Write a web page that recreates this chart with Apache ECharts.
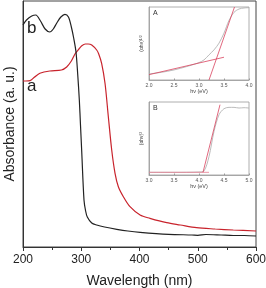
<!DOCTYPE html>
<html><head><meta charset="utf-8">
<script src="https://cdn.jsdelivr.net/npm/echarts@6/dist/echarts.min.js"></script>
<style>html,body{margin:0;padding:0;background:#fff}#c{width:266px;height:288px}</style>
</head><body><div id="c"></div>
<script>
// Main spectra: wavelength (nm) -> absorbance (a.u., arbitrary scale)
const curveA = [[200,166],[205,166],[212,166.3],[220,170],[229,173.7],[246,176],[266,177],[275,180],[283,186],[290,193.7],[296,198],[301,201.3],[307,203],[312,203],[318,202],[326.5,197],[330,193],[335,183.7],[340.8,163.7],[346.5,130.3],[352.3,97],[358,73.7],[363.7,60.3],[372.3,50.3],[383.7,40.3],[401,32],[418,28.7],[446.7,24.3],[470,22],[498,19.3],[530,18],[561,17],[600,16]];
const curveB = [[200,222],[206,227],[215,231],[222,232],[230,226],[238,218],[246,215],[252,218],[258,224],[265,230],[272,232.7],[278,230],[283,220],[287,209],[291,195],[294,172],[296.7,147],[298.7,122],[300.7,97],[304.7,47],[307.5,36],[310.4,30],[318,24],[326.5,22],[340,20],[361,17.7],[380,16],[401,14.7],[450,12.7],[490,12],[500,11.7],[514,12.5],[540,12],[561,11.5],[580,11.5],[600,11]];
// Inset A: (ahv)^1/2 vs hv (eV)
const insetAData = [[2.0,18],[2.25,23],[2.5,30],[2.75,40],[3.0,52],[3.1,60],[3.2,75],[3.3,90],[3.4,110],[3.5,140],[3.6,178],[3.7,202],[3.8,212],[3.9,215],[4.0,216]];
const insetAFit1 = [[2.0,16],[3.5,68]];
const insetAFit2 = [[3.2,0],[3.71,218]];
// Inset B: (ahv)^2 vs hv (eV)
const insetBData = [[3.0,8],[3.5,8],[4.0,9],[4.1,12],[4.2,55],[4.3,130],[4.4,180],[4.5,198],[4.6,202],[4.7,202],[4.8,200],[4.9,201],[5.0,200]];
const insetBFit1 = [[3.0,8],[4.2,8]];
const insetBFit2 = [[4.08,8],[4.42,210]];
const mainTicks = [200,300,400,500,600];

const chart = echarts.init(document.getElementById('c'), null, {renderer:'canvas'});
const FF = 'Liberation Sans, Arial, sans-serif';
const insetAxisX = (gi, min, max, name) => ({
  gridIndex: gi, type:'value', min, max, interval: 0.5,
  name, nameLocation:'middle', nameGap: 7.5, nameTextStyle:{fontSize:5.5, color:'#444', fontFamily:FF},
  axisLine:{lineStyle:{color:'#999', width:0.8}}, axisTick:{inside:true, length:1.5, lineStyle:{color:'#999'}},
  axisLabel:{fontSize:5, color:'#555', margin:3, formatter: v => v.toFixed(1), fontFamily:FF},
  splitLine:{show:false}
});
const insetAxisY = (gi, name) => ({
  gridIndex: gi, type:'value', min:0, max:218,
  name, nameLocation:'middle', nameGap: 5, nameRotate: 90,
  nameTextStyle:{fontSize:5, color:'#444', fontFamily:FF, rich:{sup:{fontSize:3.5, verticalAlign:'top', color:'#444'}}},
  axisLine:{lineStyle:{color:'#999', width:0.8}}, axisTick:{show:false}, axisLabel:{show:false}, splitLine:{show:false}
});
chart.setOption({
  animation:false,
  backgroundColor:'#fff',
  grid:[
    {left:23, top:1, right:10, bottom:41, show:true, borderColor:'#444', borderWidth:1, outerBoundsMode:'none', containLabel:false},
    {left:149, top:7, width:100, height:73, show:true, borderColor:'#999', borderWidth:0.8, backgroundColor:'#fff', outerBoundsMode:'none', containLabel:false},
    {left:149, top:102, width:100, height:73, show:true, borderColor:'#999', borderWidth:0.8, backgroundColor:'#fff', outerBoundsMode:'none', containLabel:false}
  ],
  xAxis:[
    {gridIndex:0, type:'value', min:200, max:600, interval:100,
     name:'Wavelength (nm)', nameLocation:'middle', nameGap:27,
     nameTextStyle:{fontSize:14, color:'#222', fontFamily:FF},
     axisLine:{lineStyle:{color:'#333'}}, axisTick:{length:4, lineStyle:{color:'#333'}},
     minorTick:{show:true, splitNumber:2, length:3, lineStyle:{color:'#333'}},
     axisLabel:{fontSize:12, color:'#222', margin:7, fontFamily:FF,
       formatter: v => mainTicks.includes(v) ? String(v) : ''},
     splitLine:{show:false}},
    insetAxisX(1, 2.0, 4.0, 'h\u03bd (eV)'),
    insetAxisX(2, 3.0, 5.0, 'h\u03bd (eV)')
  ],
  yAxis:[
    {gridIndex:0, type:'value', min:0, max:246,
     name:'Absorbance (a. u.)', nameLocation:'middle', nameGap:6,
     nameTextStyle:{fontSize:14, color:'#222', fontFamily:FF},
     axisLine:{lineStyle:{color:'#333'}}, axisTick:{show:false}, axisLabel:{show:false}, splitLine:{show:false}},
    insetAxisY(1, '(\u03b1h\u03bd){sup|1/2}'),
    insetAxisY(2, '(\u03b1h\u03bd){sup|2}')
  ],
  graphic:[
    {type:'text', left:27, top:20, style:{text:'b', fontSize:17, fill:'#222', fontFamily:FF}},
    {type:'text', left:27, top:78, style:{text:'a', fontSize:17, fill:'#222', fontFamily:FF}},
    {type:'text', left:153, top:10, style:{text:'A', fontSize:7, fill:'#333', fontFamily:FF}},
    {type:'text', left:153, top:105, style:{text:'B', fontSize:7, fill:'#333', fontFamily:FF}}
  ],
  series:[
    {type:'line', xAxisIndex:0, yAxisIndex:0, data:curveA, showSymbol:false, smooth:0.3, lineStyle:{color:'#c8232c', width:1.2}},
    {type:'line', xAxisIndex:0, yAxisIndex:0, data:curveB, showSymbol:false, smooth:0.3, lineStyle:{color:'#222', width:1.2}},
    {type:'line', xAxisIndex:1, yAxisIndex:1, data:insetAData, showSymbol:false, smooth:0.3, lineStyle:{color:'#aaa', width:0.8}},
    {type:'line', xAxisIndex:1, yAxisIndex:1, data:insetAFit1, showSymbol:false, lineStyle:{color:'#d9435e', width:0.8}},
    {type:'line', xAxisIndex:1, yAxisIndex:1, data:insetAFit2, showSymbol:false, lineStyle:{color:'#d9435e', width:0.8}},
    {type:'line', xAxisIndex:2, yAxisIndex:2, data:insetBData, showSymbol:false, smooth:0.3, lineStyle:{color:'#aaa', width:0.8}},
    {type:'line', xAxisIndex:2, yAxisIndex:2, data:insetBFit1, showSymbol:false, lineStyle:{color:'#e57a8e', width:0.8}},
    {type:'line', xAxisIndex:2, yAxisIndex:2, data:insetBFit2, showSymbol:false, lineStyle:{color:'#d9435e', width:0.8}}
  ]
});
</script></body></html>
